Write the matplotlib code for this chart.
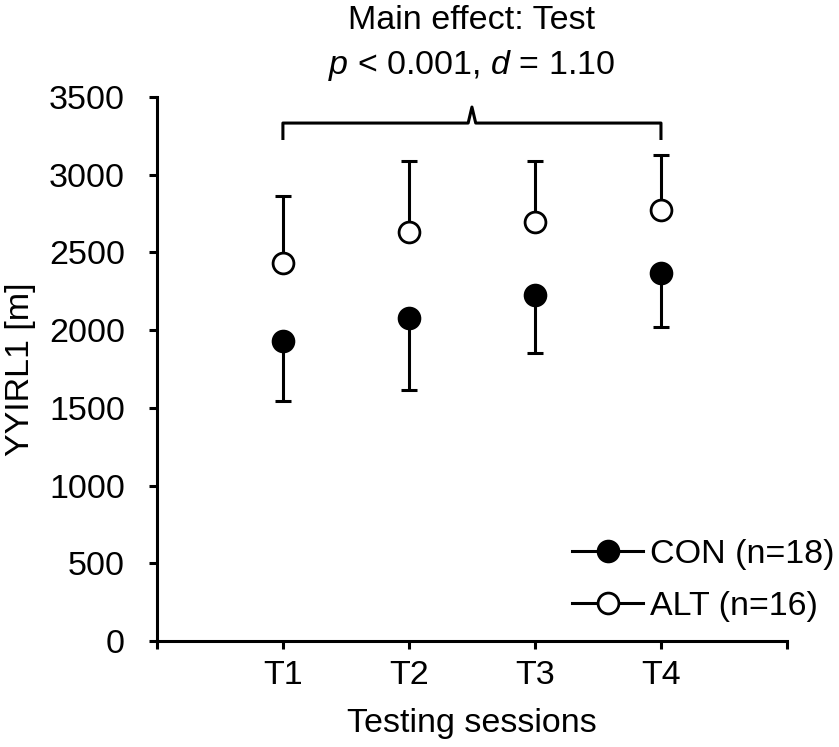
import matplotlib.pyplot as plt
from matplotlib.lines import Line2D

plt.rcParams["font.family"] = ["Liberation Sans", "DejaVu Sans"]
plt.rcParams["mathtext.fontset"] = "custom"
plt.rcParams["mathtext.rm"] = "Liberation Sans"
plt.rcParams["mathtext.it"] = "Liberation Sans:italic"

sessions = ["T1", "T2", "T3", "T4"]
x = [1, 2, 3, 4]
con_mean = [1932, 2076, 2226, 2366]
con_sd = [386, 460, 375, 344]
alt_mean = [2430, 2634, 2694, 2773]
alt_sd = [435, 454, 394, 354]

fig = plt.figure(figsize=(8.39, 7.47), dpi=100)
ax = fig.add_axes([0.187, 0.142, 0.751, 0.728])

fs = 24.5
lw = 2.2

# one-sided error bars: down for CON, up for ALT
ax.errorbar(x, con_mean, yerr=[con_sd, [0] * 4], fmt="none", ecolor="black",
            elinewidth=lw, capsize=6, capthick=lw, zorder=2)
ax.errorbar(x, alt_mean, yerr=[[0] * 4, alt_sd], fmt="none", ecolor="black",
            elinewidth=lw, capsize=6, capthick=lw, zorder=2)
ax.plot(x, con_mean, "o", ms=15, mfc="black", mec="black", mew=2, zorder=3)
ax.plot(x, alt_mean, "o", ms=15, mfc="white", mec="black", mew=2, zorder=3)

ax.set_xlim(0, 5)
ax.set_ylim(0, 3500)
ax.set_yticks(range(0, 3501, 500))
ax.set_xticks([0, 1, 2, 3, 4, 5])
ax.set_xticklabels([""] + sessions + [""])
for s in ["top", "right"]:
    ax.spines[s].set_visible(False)
for s in ["left", "bottom"]:
    ax.spines[s].set_linewidth(lw)
ax.tick_params(axis="both", width=lw, length=6, labelsize=fs, direction="out")
ax.tick_params(axis="x", pad=8)
ax.tick_params(axis="y", pad=17)
ax.set_ylabel("YYIRL1 [m]", fontsize=fs, labelpad=9)
ax.set_xlabel("Testing sessions", fontsize=fs, labelpad=12)

# bracket over all sessions
bx = [1, 1, 2.47, 2.5, 2.53, 4, 4]
by = [3224, 3333, 3333, 3436, 3333, 3333, 3224]
ax.plot(bx, by, color="black", lw=lw, clip_on=False,
        solid_joinstyle="round", solid_capstyle="butt")
ax.text(2.5, 3995, "Main effect: Test", ha="center", va="center", fontsize=fs)
ax.text(2.5, 3705, r"$p$ < 0.001, $d$ = 1.10", ha="center", va="center",
        fontsize=fs)

handles = [
    Line2D([], [], color="black", lw=lw, marker="o", ms=15, mfc="black", mec="black", mew=2),
    Line2D([], [], color="black", lw=lw, marker="o", ms=15, mfc="white", mec="black", mew=2),
]
fig.legend(handles, ["CON (n=18)", "ALT (n=16)"], loc="lower right",
           bbox_to_anchor=(0.995, 0.168), frameon=False, fontsize=fs,
           handlelength=2.1, handletextpad=0.2, labelspacing=0.6,
           borderpad=0, borderaxespad=0)

fig.savefig("out.png", dpi=100)
